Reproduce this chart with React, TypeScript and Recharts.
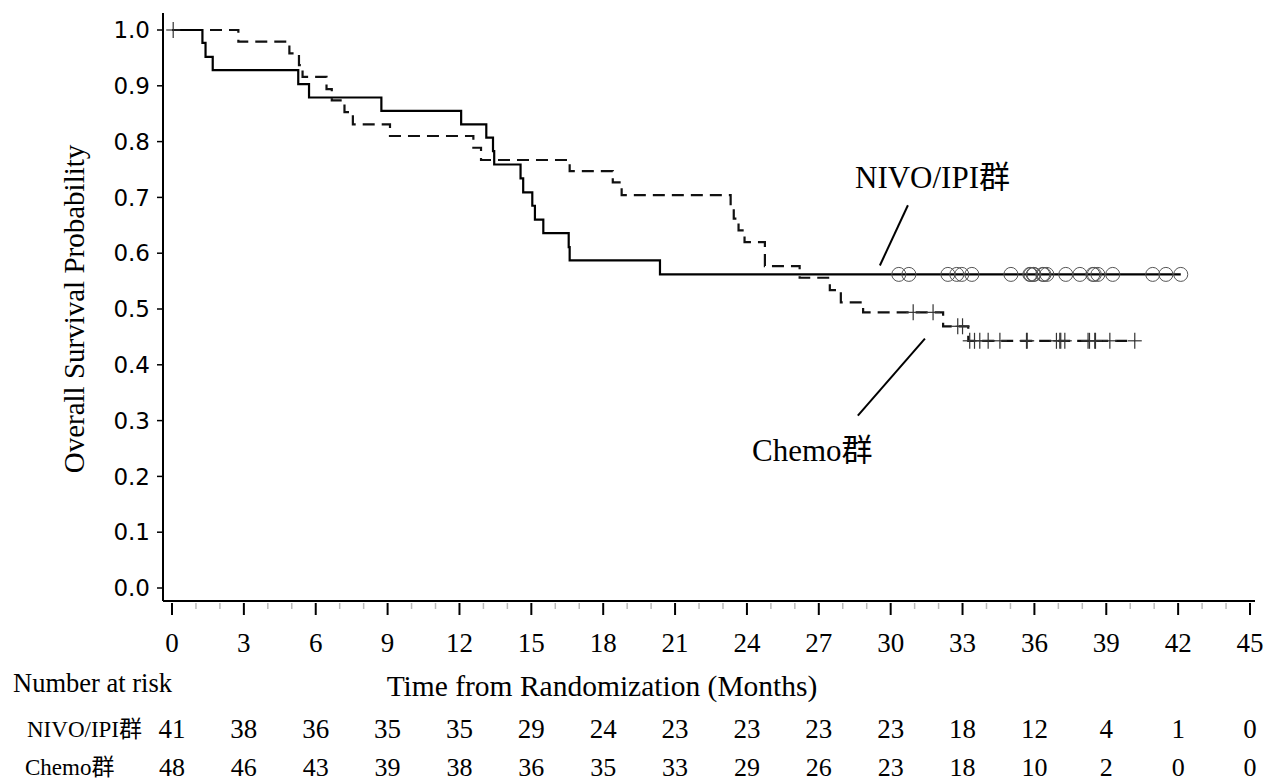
import React from "react";
import { ComposedChart, Line, Scatter, XAxis, YAxis, ReferenceLine } from "recharts";

// Kaplan-Meier steps (months, survival)
const nivoCurve = [
  { t: 0, s: 1.0 }, { t: 1.27, s: 0.977 }, { t: 1.4, s: 0.952 }, { t: 1.7, s: 0.928 },
  { t: 5.27, s: 0.903 }, { t: 5.72, s: 0.879 }, { t: 8.74, s: 0.855 }, { t: 12.07, s: 0.831 },
  { t: 13.12, s: 0.807 }, { t: 13.4, s: 0.783 }, { t: 13.45, s: 0.759 }, { t: 14.55, s: 0.734 },
  { t: 14.66, s: 0.709 }, { t: 15.04, s: 0.685 }, { t: 15.15, s: 0.66 }, { t: 15.5, s: 0.636 },
  { t: 16.56, s: 0.611 }, { t: 16.6, s: 0.587 }, { t: 20.37, s: 0.562 }, { t: 42.11, s: 0.562 }
];

const chemoCurve = [
  { t: 0, s: 1.0 }, { t: 2.77, s: 0.979 }, { t: 4.9, s: 0.958 }, { t: 5.3, s: 0.937 },
  { t: 5.45, s: 0.916 }, { t: 6.45, s: 0.894 }, { t: 6.67, s: 0.874 }, { t: 7.2, s: 0.853 },
  { t: 7.55, s: 0.831 }, { t: 9.1, s: 0.81 }, { t: 12.58, s: 0.789 }, { t: 12.9, s: 0.767 },
  { t: 16.6, s: 0.747 }, { t: 18.4, s: 0.727 }, { t: 18.77, s: 0.704 }, { t: 23.32, s: 0.683 },
  { t: 23.45, s: 0.662 }, { t: 23.65, s: 0.641 }, { t: 23.9, s: 0.62 }, { t: 24.75, s: 0.577 },
  { t: 26.2, s: 0.556 }, { t: 27.46, s: 0.534 }, { t: 27.92, s: 0.512 }, { t: 28.85, s: 0.494 },
  { t: 32.19, s: 0.469 }, { t: 33.24, s: 0.443 }, { t: 40.19, s: 0.443 }
];

const nivoCensored = [
  { t: 30.34, s: 0.562 }, { t: 30.76, s: 0.562 }, { t: 32.39, s: 0.562 }, { t: 32.76, s: 0.562 },
  { t: 32.97, s: 0.562 }, { t: 33.39, s: 0.562 }, { t: 35.02, s: 0.562 }, { t: 35.81, s: 0.562 },
  { t: 35.85, s: 0.562 }, { t: 35.95, s: 0.562 }, { t: 35.98, s: 0.562 }, { t: 36.35, s: 0.562 },
  { t: 36.4, s: 0.562 }, { t: 36.52, s: 0.562 }, { t: 37.31, s: 0.562 }, { t: 37.9, s: 0.562 },
  { t: 38.44, s: 0.562 }, { t: 38.5, s: 0.562 }, { t: 38.65, s: 0.562 }, { t: 39.27, s: 0.562 },
  { t: 40.94, s: 0.562 }, { t: 41.49, s: 0.562 }, { t: 42.11, s: 0.562 }
];

const chemoCensored = [
  { t: 0.05, s: 1.0 }, { t: 30.94, s: 0.494 }, { t: 31.77, s: 0.494 }, { t: 32.8, s: 0.469 },
  { t: 33.0, s: 0.469 }, { t: 33.3, s: 0.443 }, { t: 33.5, s: 0.443 }, { t: 33.72, s: 0.443 },
  { t: 34.07, s: 0.443 }, { t: 34.56, s: 0.443 }, { t: 35.67, s: 0.443 }, { t: 35.7, s: 0.443 },
  { t: 36.92, s: 0.443 }, { t: 37.06, s: 0.443 }, { t: 37.1, s: 0.443 }, { t: 37.27, s: 0.443 },
  { t: 38.24, s: 0.443 }, { t: 38.3, s: 0.443 }, { t: 38.52, s: 0.443 }, { t: 38.55, s: 0.443 },
  { t: 39.15, s: 0.443 }, { t: 40.19, s: 0.443 }
];

const majorTicks = [0, 3, 6, 9, 12, 15, 18, 21, 24, 27, 30, 33, 36, 39, 42, 45];
const monthTicks = [
  0, 1, 2, 3, 4, 5, 6, 7, 8, 9, 10, 11, 12, 13, 14, 15, 16, 17, 18, 19, 20, 21, 22,
  23, 24, 25, 26, 27, 28, 29, 30, 31, 32, 33, 34, 35, 36, 37, 38, 39, 40, 41, 42, 43, 44, 45
];
const probTicks = [0, 0.1, 0.2, 0.3, 0.4, 0.5, 0.6, 0.7, 0.8, 0.9, 1.0];

const atRiskNivo = [41, 38, 36, 35, 35, 29, 24, 23, 23, 23, 23, 18, 12, 4, 1, 0];
const atRiskChemo = [48, 46, 43, 39, 38, 36, 35, 33, 29, 26, 23, 18, 10, 2, 0, 0];

const serif = "'Liberation Serif', 'Times New Roman', 'Noto Sans CJK SC', serif";
const sans = "'DejaVu Sans', Verdana, sans-serif";

function MonthTick(props: any) {
  const { x, y, payload } = props;
  const v = payload.value;
  const idx = majorTicks.indexOf(v);
  const major = idx >= 0;
  return (
    <g>
      <line
        x1={x}
        x2={x}
        y1={y + 2}
        y2={y + (major ? 14 : 8)}
        stroke={major ? "#000" : "#bbb"}
        strokeWidth={major ? 2 : 1.5}
      />
      {major && (
        <g fontFamily={serif} fill="#000" textAnchor="middle">
          <text x={x} y={y + 51} fontSize={27}>{v}</text>
          <text x={x} y={y + 137} fontSize={27}>{atRiskNivo[idx]}</text>
          <text x={x} y={y + 175} fontSize={26}>{atRiskChemo[idx]}</text>
        </g>
      )}
    </g>
  );
}

function CircleMark(props: any) {
  const { cx, cy } = props;
  return <circle cx={cx} cy={cy} r={7} fill="none" stroke="#555" strokeWidth={1} />;
}

function PlusMark(props: any) {
  const { cx, cy } = props;
  return (
    <g stroke="#333" strokeWidth={1.2}>
      <line x1={cx} x2={cx} y1={cy - 8} y2={cy + 8} />
      <line x1={cx - 7} x2={cx + 7} y1={cy} y2={cy} />
    </g>
  );
}

export default function App() {
  return (
    <div style={{ position: "absolute", left: 0, top: 0, width: 1268, height: 782, background: "#fff" }}>
      <ComposedChart
        width={1268}
        height={782}
        margin={{ top: 13, right: 13, left: 0, bottom: 121 }}
      >
        <XAxis
          xAxisId="top"
          orientation="top"
          type="number"
          domain={[0, 45]}
          height={0}
          tick={false}
          tickLine={false}
          axisLine={{ stroke: "#000", strokeWidth: 2 }}
        />
        <YAxis
          yAxisId="right"
          orientation="right"
          type="number"
          domain={[0, 1]}
          width={0}
          tick={false}
          tickLine={false}
          axisLine={{ stroke: "#000", strokeWidth: 2 }}
        />
        <XAxis
          dataKey="t"
          type="number"
          domain={[0, 45]}
          ticks={monthTicks}
          interval={0}
          height={60}
          padding={{ left: 9, right: 5 }}
          tickLine={false}
          tickSize={0}
          tickMargin={0}
          tick={<MonthTick />}
          axisLine={{ stroke: "#000", strokeWidth: 2 }}
        />
        <YAxis
          dataKey="s"
          type="number"
          domain={[0, 1]}
          ticks={probTicks}
          interval={0}
          width={163}
          padding={{ top: 17, bottom: 13 }}
          tickSize={6}
          tickMargin={7}
          tickFormatter={(v: number) => v.toFixed(1)}
          tick={{ fontFamily: sans, fontSize: 23, fill: "#000" }}
          tickLine={{ stroke: "#000", strokeWidth: 1.5 }}
          axisLine={{ stroke: "#000", strokeWidth: 2 }}
        />
        <Line
          data={chemoCurve}
          dataKey="s"
          type="stepAfter"
          stroke="#111"
          strokeWidth={2.2}
          strokeDasharray="12 7"
          dot={false}
          isAnimationActive={false}
        />
        <Line
          data={nivoCurve}
          dataKey="s"
          type="stepAfter"
          stroke="#000"
          strokeWidth={2.2}
          dot={false}
          isAnimationActive={false}
        />
        <Scatter data={nivoCensored} dataKey="s" shape={<CircleMark />} isAnimationActive={false} />
        <Scatter data={chemoCensored} dataKey="s" shape={<PlusMark />} isAnimationActive={false} />
        <ReferenceLine
          segment={[{ x: 30.72, y: 0.686 }, { x: 29.55, y: 0.578 }]}
          stroke="#000"
          strokeWidth={2}
        />
        <ReferenceLine
          segment={[{ x: 31.43, y: 0.447 }, { x: 28.63, y: 0.309 }]}
          stroke="#000"
          strokeWidth={2}
        />
      </ComposedChart>
      <svg
        width={1268}
        height={782}
        style={{ position: "absolute", left: 0, top: 0, pointerEvents: "none" }}
        fontFamily={serif}
        fill="#000"
      >
        <text x={855} y={188} fontSize={31}>NIVO/IPI群</text>
        <text x={752} y={461} fontSize={31}>Chemo群</text>
        <text
          x={0}
          y={0}
          fontSize={29}
          textAnchor="middle"
          transform="translate(84 309) rotate(-90)"
        >
          Overall Survival Probability
        </text>
        <text x={602} y={696} fontSize={29.5} textAnchor="middle">Time from Randomization (Months)</text>
        <text x={13} y={692} fontSize={26.5}>Number at risk</text>
        <text x={27} y={737} fontSize={23}>NIVO/IPI群</text>
        <text x={25} y={775} fontSize={23}>Chemo群</text>
      </svg>
    </div>
  );
}
